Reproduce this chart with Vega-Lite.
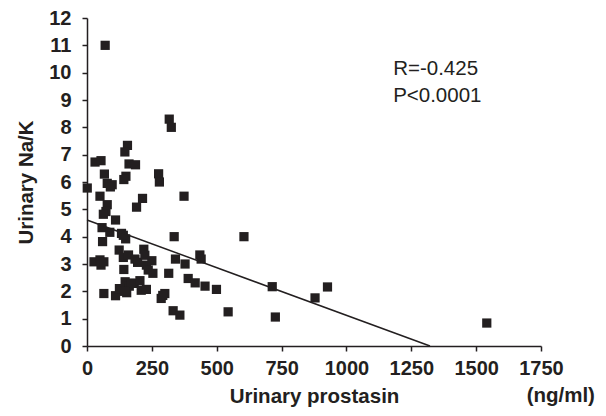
{
  "$schema": "https://vega.github.io/schema/vega-lite/v6.json",
  "width": 454,
  "height": 328,
  "autosize": "none",
  "padding": {"left": 87, "top": 18, "right": 65, "bottom": 70},
  "background": "white",
  "config": {
    "view": {"stroke": null},
    "font": "Liberation Sans",
    "axis": {
      "grid": false,
      "domainColor": "#231f20",
      "domainWidth": 1.5,
      "tickColor": "#231f20",
      "tickWidth": 1.5,
      "tickSize": 5,
      "labelOverlap": false,
      "labelFlush": false,
      "labelFont": "Liberation Sans",
      "labelFontWeight": "bold",
      "labelFontSize": 20,
      "labelColor": "#231f20",
      "titleFont": "Liberation Sans",
      "titleFontWeight": "bold",
      "titleFontSize": 20.5,
      "titleColor": "#231f20"
    }
  },
  "encoding": {
    "x": {"field": "x", "type": "quantitative", "scale": {"domain": [0, 1750], "nice": false},
      "axis": {"values": [0, 250, 500, 750, 1000, 1250, 1500, 1750], "format": "d", "title": "Urinary prostasin", "labelPadding": 7, "titlePadding": 8, "labelOverlap": false}},
    "y": {"field": "y", "type": "quantitative", "scale": {"domain": [0, 12], "nice": false},
      "axis": {"values": [0, 1, 2, 3, 4, 5, 6, 7, 8, 9, 10, 11, 12], "format": "d", "title": "Urinary Na/K", "labelPadding": 11, "titlePadding": 12, "labelOverlap": false, "labelFontSize": 20, "labelBaseline": "middle"}}
  },
  "layer": [
    {
      "data": {"values": [
        {"x": 70, "y": 11.0}, {"x": 317, "y": 8.3}, {"x": 325, "y": 8.0}, {"x": 156, "y": 7.34},
        {"x": 146, "y": 7.1}, {"x": 31, "y": 6.73}, {"x": 54, "y": 6.78}, {"x": 162, "y": 6.66},
        {"x": 187, "y": 6.63}, {"x": 67, "y": 6.29}, {"x": 276, "y": 6.3}, {"x": 279, "y": 6.0},
        {"x": 150, "y": 6.21}, {"x": 142, "y": 6.09}, {"x": 1, "y": 5.78}, {"x": 78, "y": 5.95},
        {"x": 97, "y": 5.9}, {"x": 90, "y": 5.82}, {"x": 50, "y": 5.48}, {"x": 374, "y": 5.48},
        {"x": 214, "y": 5.4}, {"x": 191, "y": 5.08}, {"x": 78, "y": 5.17}, {"x": 73, "y": 4.92},
        {"x": 63, "y": 4.82}, {"x": 110, "y": 4.61}, {"x": 58, "y": 4.33}, {"x": 88, "y": 4.16},
        {"x": 60, "y": 3.82}, {"x": 133, "y": 4.12}, {"x": 149, "y": 3.92}, {"x": 124, "y": 3.51},
        {"x": 140, "y": 3.24}, {"x": 27, "y": 3.08}, {"x": 50, "y": 3.15}, {"x": 54, "y": 2.96},
        {"x": 65, "y": 3.08}, {"x": 65, "y": 1.92}, {"x": 110, "y": 1.84}, {"x": 142, "y": 2.8},
        {"x": 160, "y": 3.33}, {"x": 185, "y": 3.18}, {"x": 195, "y": 3.06}, {"x": 219, "y": 3.54},
        {"x": 223, "y": 3.32}, {"x": 229, "y": 2.96}, {"x": 236, "y": 2.78}, {"x": 250, "y": 3.12},
        {"x": 254, "y": 2.66}, {"x": 147, "y": 2.35}, {"x": 136, "y": 2.1}, {"x": 153, "y": 1.95},
        {"x": 163, "y": 2.19}, {"x": 182, "y": 2.29}, {"x": 204, "y": 2.39}, {"x": 209, "y": 2.04},
        {"x": 229, "y": 2.07}, {"x": 286, "y": 1.74}, {"x": 300, "y": 1.92}, {"x": 292, "y": 1.85},
        {"x": 315, "y": 2.66}, {"x": 332, "y": 1.29}, {"x": 358, "y": 1.13}, {"x": 341, "y": 3.18},
        {"x": 336, "y": 4.0}, {"x": 378, "y": 3.0}, {"x": 390, "y": 2.47}, {"x": 417, "y": 2.31},
        {"x": 435, "y": 3.33}, {"x": 440, "y": 3.18}, {"x": 455, "y": 2.19}, {"x": 499, "y": 2.07},
        {"x": 544, "y": 1.25}, {"x": 605, "y": 4.0}, {"x": 714, "y": 2.17}, {"x": 726, "y": 1.06},
        {"x": 879, "y": 1.76}, {"x": 927, "y": 2.16}, {"x": 1541, "y": 0.84},
        {"x": 125, "y": 2.1}, {"x": 170, "y": 2.3}, {"x": 145, "y": 2.0}, {"x": 140, "y": 4.05}
      ]},
      "mark": {"type": "point", "shape": "square", "filled": true, "size": 85, "color": "#231f20", "opacity": 1}
    },
    {
      "data": {"values": [{"x": 0, "y": 4.61}, {"x": 1322, "y": 0}]},
      "mark": {"type": "line", "color": "#231f20", "strokeWidth": 1.5}
    },
    {
      "data": {"values": [
        {"x": 1180, "y": 9.92, "t": "R=-0.425"},
        {"x": 1180, "y": 8.94, "t": "P<0.0001"}
      ]},
      "mark": {"type": "text", "align": "left", "baseline": "alphabetic", "fontSize": 20.5, "color": "#231f20", "font": "Liberation Sans"},
      "encoding": {"text": {"field": "t"}}
    },
    {
      "data": {"values": [{"x": 1958, "y": -2.05, "t": "(ng/ml)"}]},
      "mark": {"type": "text", "align": "right", "baseline": "alphabetic", "fontSize": 20.5, "fontWeight": "bold", "color": "#231f20", "font": "Liberation Sans"},
      "encoding": {"text": {"field": "t"}}
    }
  ]
}
